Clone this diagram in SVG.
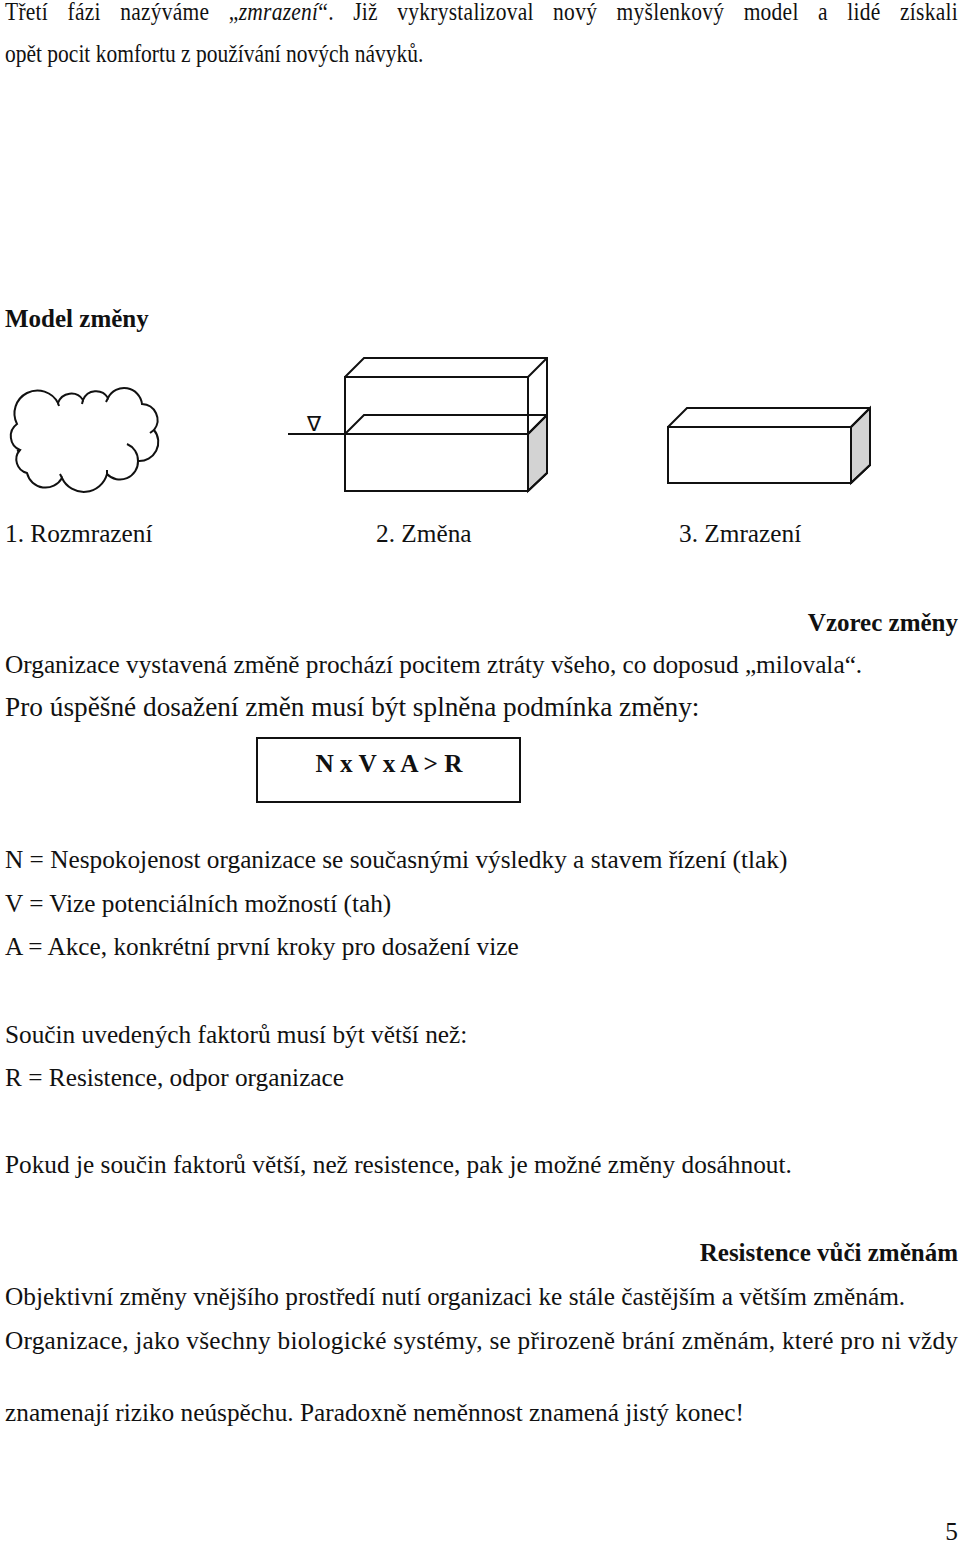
<svg xmlns="http://www.w3.org/2000/svg" width="960" height="1543" viewBox="0 0 960 1543">
<style>
text{font-size:25.3px;fill:#111}
.b{font-weight:bold;font-size:25px}
.i{font-size:26px}
.ln{fill:none;stroke:#111;stroke-width:2;stroke-linejoin:miter}
.sh{fill:#d3d3d3;stroke:#111;stroke-width:2}
</style>
<rect width="960" height="1543" fill="#fff"/>
<g font-family="Liberation Serif, Tinos, Times New Roman, serif">
<g id="intro" transform="translate(5 0) scale(0.827 1)">
<text class="i" x="0" y="20" word-spacing="16.7" textLength="1152" lengthAdjust="spacing">Třetí fázi nazýváme „<tspan font-style="italic">zmrazení</tspan>“. Již vykrystalizoval nový myšlenkový model a lidé získali</text>
<text class="i" x="0" y="62">opět pocit komfortu z používání nových návyků.</text>
</g>
<text class="b" x="5" y="327">Model změny</text>
<g id="cloud">
<path class="ln" d="M17 424 A23 23 0 0 1 58 403 A14 14 0 0 1 83 400 A14 14 0 0 1 108 398 A18 18 0 0 1 142 404 A16 16 0 0 1 154 430 A19 19 0 0 1 138 461 A18 18 0 0 1 107 474 A24 24 0 0 1 62 478 A19 19 0 0 1 27 473 A14 14 0 0 1 20 450 A15 15 0 0 1 17 424 Z"/>
<path class="ln" d="M58 403 l1 3 M83 400 l-1 4 M108 398 l-2 4 M154 430 l-4 3 M127 444 A18 18 0 0 1 138 461 M107 474 l0 -4 M62 478 l-2 -4 M20 450 l-3 1"/>
</g>
<g id="box-change">
<polygon class="sh" points="528,434 547,415 547,473 528,491"/>
<rect class="ln" x="345" y="377" width="183" height="114"/>
<path class="ln" d="M345 377 L364 358 L547 358 L547 473 L528 491 M528 377 L547 358 M345 434 L364 415 L547 415 M288 434 L528 434 M528 434 L547 415"/>
<text x="307" y="431" style="font-size:21px">∇</text>
</g>
<g id="box-freeze">
<polygon class="sh" points="851,427 870,408 870,465 851,483"/>
<rect class="ln" x="668" y="427" width="183" height="56"/>
<path class="ln" d="M668 427 L687 408 L870 408 L870 465 L851 483 M851 427 L870 408"/>
</g>
<g id="labels">
<text x="5" y="542">1. Rozmrazení</text>
<text x="376" y="542">2. Změna</text>
<text x="679" y="542">3. Zmrazení</text>
</g>
<text class="b" x="958" y="631" text-anchor="end">Vzorec změny</text>
<text x="5" y="673">Organizace vystavená změně prochází pocitem ztráty všeho, co doposud „milovala“.</text>
<text x="5" y="716" style="font-size:27.3px">Pro úspěšné dosažení změn musí být splněna podmínka změny:</text>
<g id="formula">
<rect class="ln" x="257" y="738" width="263" height="64" stroke-width="1.5"/>
<text class="b" x="389" y="772" text-anchor="middle" style="font-size:25.3px">N x V x A &gt; R</text>
</g>
<g id="defs-text">
<text x="5" y="868">N = Nespokojenost organizace se současnými výsledky a stavem řízení (tlak)</text>
<text x="5" y="912">V = Vize potenciálních možností (tah)</text>
<text x="5" y="955">A = Akce, konkrétní první kroky pro dosažení vize</text>
<text x="5" y="1043">Součin uvedených faktorů musí být větší než:</text>
<text x="5" y="1086">R = Resistence, odpor organizace</text>
<text x="5" y="1173">Pokud je součin faktorů větší, než resistence, pak je možné změny dosáhnout.</text>
</g>
<text class="b" x="958" y="1261" text-anchor="end">Resistence vůči změnám</text>
<g id="resist-text">
<text x="5" y="1305">Objektivní změny vnějšího prostředí nutí organizaci ke stále častějším a větším změnám.</text>
<text x="5" y="1349" textLength="953" lengthAdjust="spacing">Organizace, jako všechny biologické systémy, se přirozeně brání změnám, které pro ni vždy</text>
<text x="5" y="1421">znamenají riziko neúspěchu. Paradoxně neměnnost znamená jistý konec!</text>
</g>
<text x="958" y="1540" text-anchor="end">5</text>
</g>
</svg>
